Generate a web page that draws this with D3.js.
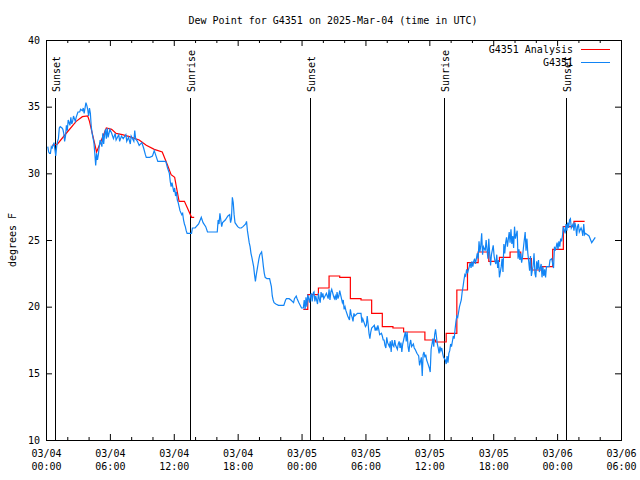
<!DOCTYPE html>
<html>
<head>
<meta charset="utf-8">
<script src="https://cdn.jsdelivr.net/npm/d3@7"></script>
<style>
  body { margin: 0; background: #fff; }
  svg text { font-family: "DejaVu Sans Mono", "Liberation Mono", monospace; font-size: 10px; fill: #000; }
</style>
</head>
<body>
<svg id="chart" width="640" height="480"></svg>
<script>
// ---------------- data (times in minutes since 2025-03-04 00:00 UTC) ----------------
const chartTitle = "Dew Point for G4351 on 2025-Mar-04 (time in UTC)";
const yAxisLabel = "degrees F";
const seriesNames = ["G4351 Analysis", "G4351"];

const xDomainMin = [0, 3240];
const yDomain = [10, 40];
const yTicks = [10, 15, 20, 25, 30, 35, 40];
const xMajorTickMin = [0, 360, 720, 1080, 1440, 1800, 2160, 2520, 2880, 3240];
const xMinorTickMin = [120, 240, 480, 600, 840, 960, 1200, 1320, 1560, 1680, 1920, 2040, 2280, 2400, 2640, 2760, 3000, 3120];
const xTickDate = ["03/04", "03/04", "03/04", "03/04", "03/05", "03/05", "03/05", "03/05", "03/06", "03/06"];
const xTickTime = ["00:00", "06:00", "12:00", "18:00", "00:00", "06:00", "12:00", "18:00", "00:00", "06:00"];

const sunEventMin = [50, 810, 1490, 2240, 2930];
const sunEventName = ["Sunset", "Sunrise", "Sunset", "Sunrise", "Sunset"];

// observed dew point (G4351)
const obsMin = [
  10,15,20,25,30,35,45,50,55,60,
  65,70,75,80,90,95,100,105,110,115,
  120,125,135,140,145,150,155,165,170,180,
  190,195,205,210,215,225,230,235,240,245,
  250,255,260,270,275,280,285,290,295,300,
  305,315,320,325,330,335,340,345,350,360,
  370,380,390,395,410,415,425,435,450,455,
  465,475,480,495,500,505,515,525,540,550,
  560,565,585,600,610,615,630,650,675,685,
  695,700,705,710,720,725,730,735,740,745,
  750,755,765,770,775,780,785,790,795,810,
  820,825,840,860,875,885,900,910,930,955,
  965,970,975,980,990,995,1010,1025,1035,1040,
  1045,1050,1055,1060,1065,1080,1090,1100,1110,1125,
  1130,1135,1145,1150,1155,1160,1170,1175,1180,1185,
  1190,1195,1200,1205,1215,1220,1225,1230,1235,1245,
  1260,1265,1270,1275,1280,1285,1295,1310,1320,1340,
  1350,1355,1370,1380,1395,1400,1410,1415,1425,1440,
  1450,1455,1460,1465,1470,1475,1485,1490,1495,1500,
  1505,1510,1515,1520,1530,1535,1540,1545,1550,1555,
  1560,1565,1580,1585,1590,1595,1600,1605,1610,1620,
  1625,1630,1635,1640,1645,1650,1655,1665,1670,1675,
  1680,1685,1690,1700,1710,1715,1720,1725,1730,1735,
  1740,1755,1765,1775,1780,1785,1790,1800,1805,1810,
  1815,1820,1825,1830,1835,1850,1855,1860,1865,1870,
  1875,1880,1890,1895,1900,1905,1910,1915,1920,1925,
  1935,1940,1945,1950,1955,1960,1965,1970,1980,1985,
  1990,1995,2000,2005,2010,2015,2025,2030,2035,2040,
  2045,2050,2055,2060,2070,2075,2080,2090,2100,2105,
  2115,2120,2125,2130,2135,2140,2145,2150,2160,2165,
  2170,2175,2180,2185,2190,2195,2205,2210,2215,2220,
  2225,2230,2235,2240,2250,2255,2260,2265,2270,2275,
  2280,2285,2295,2300,2305,2310,2315,2320,2325,2330,
  2340,2345,2350,2355,2360,2365,2370,2375,2385,2390,
  2395,2400,2405,2410,2415,2420,2430,2435,2440,2445,
  2450,2455,2460,2465,2475,2480,2485,2490,2495,2500,
  2505,2510,2520,2525,2530,2535,2540,2545,2550,2555,
  2565,2570,2575,2580,2585,2590,2595,2600,2610,2615,
  2620,2625,2630,2635,2640,2645,2655,2660,2665,2670,
  2675,2680,2685,2690,2700,2705,2710,2715,2720,2725,
  2730,2735,2745,2750,2755,2760,2765,2770,2775,2780,
  2790,2795,2800,2805,2810,2815,2820,2835,2840,2850,
  2855,2860,2865,2870,2880,2885,2890,2895,2900,2905,
  2910,2915,2925,2930,2935,2940,2945,2950,2955,2960,
  2970,2975,2980,2985,2990,2995,3000,3005,3015,3020,
  3025,3030,3035,3040,3060,3075,3095
];
const obsDewF = [
  32.0,31.6,31.5,31.5,32.0,31.9,32.3,31.8,31.3,32.0,
  32.4,32.6,33.4,33.5,33.4,33.3,33.0,32.4,32.8,33.6,
  33.2,34.0,33.6,34.2,33.7,33.9,34.3,33.9,34.2,34.6,
  34.6,34.8,34.7,34.9,34.5,35.3,35.1,34.8,34.3,34.9,
  34.5,33.5,33.0,32.3,31.5,30.6,31.5,31.0,31.4,32.0,
  32.5,32.0,33.0,32.2,32.9,33.3,32.6,33.4,32.7,33.3,
  33.0,32.6,33.0,32.5,32.9,32.4,32.8,32.6,32.9,32.4,
  32.7,32.2,32.8,32.4,33.2,32.6,32.4,32.1,32.3,31.9,
  31.4,31.2,31.2,31.3,31.7,31.5,30.9,30.9,30.9,30.4,
  30.0,29.4,29.0,29.3,28.6,28.9,28.3,28.6,28.0,27.8,
  27.5,27.2,26.9,27.0,26.5,26.2,26.0,25.7,25.5,25.5,
  25.5,25.9,25.9,26.2,26.7,26.3,26.0,25.6,25.6,25.6,
  25.6,26.5,26.2,27.0,26.0,26.3,26.5,26.8,26.9,26.3,
  26.6,28.2,27.8,26.9,26.3,26.0,25.9,25.9,26.0,26.2,
  26.4,25.7,24.8,24.5,24.0,23.7,23.0,22.4,21.9,22.4,
  22.8,23.2,23.6,23.9,24.1,23.6,23.0,22.5,22.2,22.1,
  22.1,21.8,21.5,20.8,20.5,20.3,20.2,20.1,20.1,20.1,
  20.5,20.6,20.6,20.5,20.3,20.6,20.8,20.6,20.3,19.9,
  19.9,20.5,19.8,20.7,20.0,20.9,20.3,20.8,21.0,20.4,
  21.0,21.1,20.4,20.8,20.2,21.0,20.6,20.3,21.1,20.7,
  21.0,20.6,21.0,20.8,20.6,21.3,20.5,21.1,21.3,20.8,
  20.6,20.8,20.5,21.1,20.6,20.8,21.2,20.6,20.3,20.5,
  19.8,20.0,19.7,19.3,19.0,19.8,19.4,19.2,18.9,19.5,
  19.3,19.5,19.5,19.5,18.8,19.1,18.9,18.5,18.6,19.3,
  18.7,18.0,17.6,18.1,18.4,18.6,18.2,18.4,18.2,18.6,
  18.3,17.9,18.0,17.8,17.5,17.5,17.1,16.9,17.7,17.3,
  17.0,17.4,16.6,17.5,17.1,17.0,17.5,17.1,16.8,17.2,
  17.4,16.9,17.3,16.6,17.2,17.5,18.1,17.4,18.1,17.0,
  16.6,17.2,17.5,17.0,17.2,16.9,16.8,16.5,16.3,15.6,
  16.2,14.8,16.4,16.6,16.2,16.4,16.0,15.8,15.4,15.1,
  16.8,17.2,17.6,17.0,17.9,18.3,17.2,16.9,16.5,17.0,
  16.7,16.9,16.5,16.2,16.0,15.7,16.3,15.8,16.5,16.7,
  17.2,17.0,17.8,17.6,18.3,18.9,19.3,19.2,19.6,20.0,
  20.5,21.1,21.5,22.0,22.4,22.3,22.8,22.5,23.0,23.3,
  22.9,23.4,23.0,23.4,23.6,23.2,24.0,23.6,24.9,24.1,
  24.6,25.5,23.9,24.5,24.2,25.0,24.3,23.6,25.1,24.0,
  23.1,23.9,24.6,23.8,23.4,23.2,23.9,22.9,23.5,22.2,
  23.0,23.6,22.6,24.7,24.0,24.8,25.2,24.5,25.6,24.8,
  25.8,24.7,25.3,24.4,26.0,25.1,25.7,23.6,24.3,23.5,
  24.0,23.3,23.7,24.4,25.6,24.2,25.1,24.0,23.4,22.7,
  23.8,22.3,23.1,24.0,22.5,22.2,23.4,22.8,23.5,22.6,
  23.2,22.2,23.0,22.3,22.8,22.2,23.0,23.0,23.5,23.6,
  23.2,22.9,24.5,24.2,24.8,24.3,24.9,24.5,25.1,24.9,
  25.3,26.0,25.5,26.2,25.7,26.3,25.9,26.5,26.6,25.9,
  26.2,25.7,26.3,26.0,25.3,26.0,26.2,25.6,25.9,25.7,
  25.3,26.2,25.4,25.5,25.3,24.8,25.2
];

// analysis dew point, first day (linear)
const anaEarlyMin = [35,65,120,170,205,235,245,285,340,370,395,430,470,525,565,610,655,685,705,725,740,750,780,810,820,835];
const anaEarlyDewF = [32.1,32.2,33.1,33.9,34.25,34.3,33.9,31.6,33.4,33.3,33.0,32.9,32.75,32.5,32.1,31.8,31.6,30.6,29.9,29.7,28.6,27.9,27.9,27.0,26.7,26.7];
// analysis dew point, second day (hourly steps)
const anaLateMin = [1450,1475,1535,1595,1655,1715,1775,1835,1895,1955,2015,2075,2135,2195,2255,2315,2375,2435,2495,2555,2615,2675,2735,2795,2855,2915,2975,3035];
const anaLateDewF = [19.8,20.9,21.4,22.3,22.2,20.6,20.5,19.5,18.5,18.4,18.1,18.1,17.5,17.35,18.0,21.25,23.3,24.1,23.4,23.7,24.1,23.6,22.75,23.0,24.3,26.0,26.4,26.4];

// ---------------- drawing ----------------
const colors = { analysis: "#ff0000", obs: "#1184f5" };
const svg = d3.select("#chart");
const plotLeft = 46, plotRight = 621, plotTop = 40, plotBottom = 440;

const x = d3.scaleLinear().domain(xDomainMin).range([plotLeft, plotRight]);
const y = d3.scaleLinear().domain(yDomain).range([plotBottom, plotTop]);

function styleAxis(s) {
  s.select(".domain").remove();
  s.attr("font-family", null).attr("font-size", null);
  s.selectAll(".tick line").attr("stroke", "#000");
}

// axes with inward ticks (mirrored on all sides)
svg.append("g").attr("transform", `translate(0,${plotBottom})`)
  .call(d3.axisBottom(x).tickValues(xMajorTickMin).tickSizeInner(-6).tickSizeOuter(0).tickFormat(() => ""))
  .call(styleAxis);
svg.append("g").attr("transform", `translate(0,${plotBottom})`)
  .call(d3.axisBottom(x).tickValues(xMinorTickMin).tickSizeInner(-3).tickSizeOuter(0).tickFormat(() => ""))
  .call(styleAxis);
svg.append("g").attr("transform", `translate(0,${plotTop})`)
  .call(d3.axisTop(x).tickValues(xMajorTickMin).tickSizeInner(-6).tickSizeOuter(0).tickFormat(() => ""))
  .call(styleAxis);
svg.append("g").attr("transform", `translate(0,${plotTop})`)
  .call(d3.axisTop(x).tickValues(xMinorTickMin).tickSizeInner(-3).tickSizeOuter(0).tickFormat(() => ""))
  .call(styleAxis);
svg.append("g").attr("transform", `translate(${plotLeft},0)`)
  .call(d3.axisLeft(y).tickValues(yTicks).tickSizeInner(-6).tickSizeOuter(0).tickPadding(6).tickFormat(d3.format("d")))
  .call(styleAxis);
svg.append("g").attr("transform", `translate(${plotRight},0)`)
  .call(d3.axisRight(y).tickValues(yTicks).tickSizeInner(-6).tickSizeOuter(0).tickFormat(() => ""))
  .call(styleAxis);

// x tick labels (two lines)
const xl = svg.append("g").selectAll("text").data(xMajorTickMin).join("text")
  .attr("text-anchor", "middle")
  .attr("x", d => x(d) + 0.5);
xl.append("tspan").attr("x", d => x(d) + 0.5).attr("y", 457).text((d, i) => xTickDate[i]);
xl.append("tspan").attr("x", d => x(d) + 0.5).attr("y", 470).text((d, i) => xTickTime[i]);

// frame
svg.append("rect").attr("x", plotLeft + 0.5).attr("y", plotTop + 0.5)
  .attr("width", plotRight - plotLeft).attr("height", plotBottom - plotTop)
  .attr("fill", "none").attr("stroke", "#000").attr("stroke-width", 1);

// title & y label
svg.append("text").attr("x", 333).attr("y", 20).attr("dy", "0.35em").attr("text-anchor", "middle").text(chartTitle);
svg.append("text").attr("transform", "translate(12,240) rotate(-90)").attr("dy", "0.35em")
  .attr("text-anchor", "middle").text(yAxisLabel);

// sunrise / sunset markers
const sun = svg.append("g").selectAll("g").data(sunEventMin).join("g");
sun.append("line")
  .attr("x1", d => Math.round(x(d)) + 0.5).attr("x2", d => Math.round(x(d)) + 0.5)
  .attr("y1", 98).attr("y2", plotBottom)
  .attr("stroke", "#000").attr("stroke-width", 1);
sun.append("text")
  .attr("transform", d => `translate(${Math.round(x(d)) + 1.5},92) rotate(-90)`)
  .attr("dy", "0.35em").attr("text-anchor", "start")
  .text((d, i) => sunEventName[i]);

// series
const line = d3.line().x(d => x(d[0])).y(d => y(d[1]));
const stepLine = d3.line().x(d => x(d[0])).y(d => y(d[1])).curve(d3.curveStepAfter);

svg.append("path").datum(d3.zip(anaEarlyMin, anaEarlyDewF))
  .attr("d", line).attr("fill", "none").attr("stroke", colors.analysis).attr("stroke-width", 1.2);
svg.append("path").datum(d3.zip(anaLateMin, anaLateDewF))
  .attr("d", stepLine).attr("fill", "none").attr("stroke", colors.analysis).attr("stroke-width", 1.2);
svg.append("path").datum(d3.zip(obsMin, obsDewF))
  .attr("d", line).attr("fill", "none").attr("stroke", colors.obs).attr("stroke-width", 1.2)
  .attr("stroke-linejoin", "miter");

// legend
const legColors = [colors.analysis, colors.obs];
const leg = svg.append("g").selectAll("g").data(seriesNames).join("g")
  .attr("transform", (d, i) => `translate(0,${49 + i * 13})`);
leg.append("text").attr("x", 573).attr("dy", "0.35em").attr("text-anchor", "end").text(d => d);
leg.append("line").attr("x1", 581).attr("x2", 610).attr("y1", 0.5).attr("y2", 0.5)
  .attr("stroke", (d, i) => legColors[i]).attr("stroke-width", 1);
</script>
</body>
</html>
